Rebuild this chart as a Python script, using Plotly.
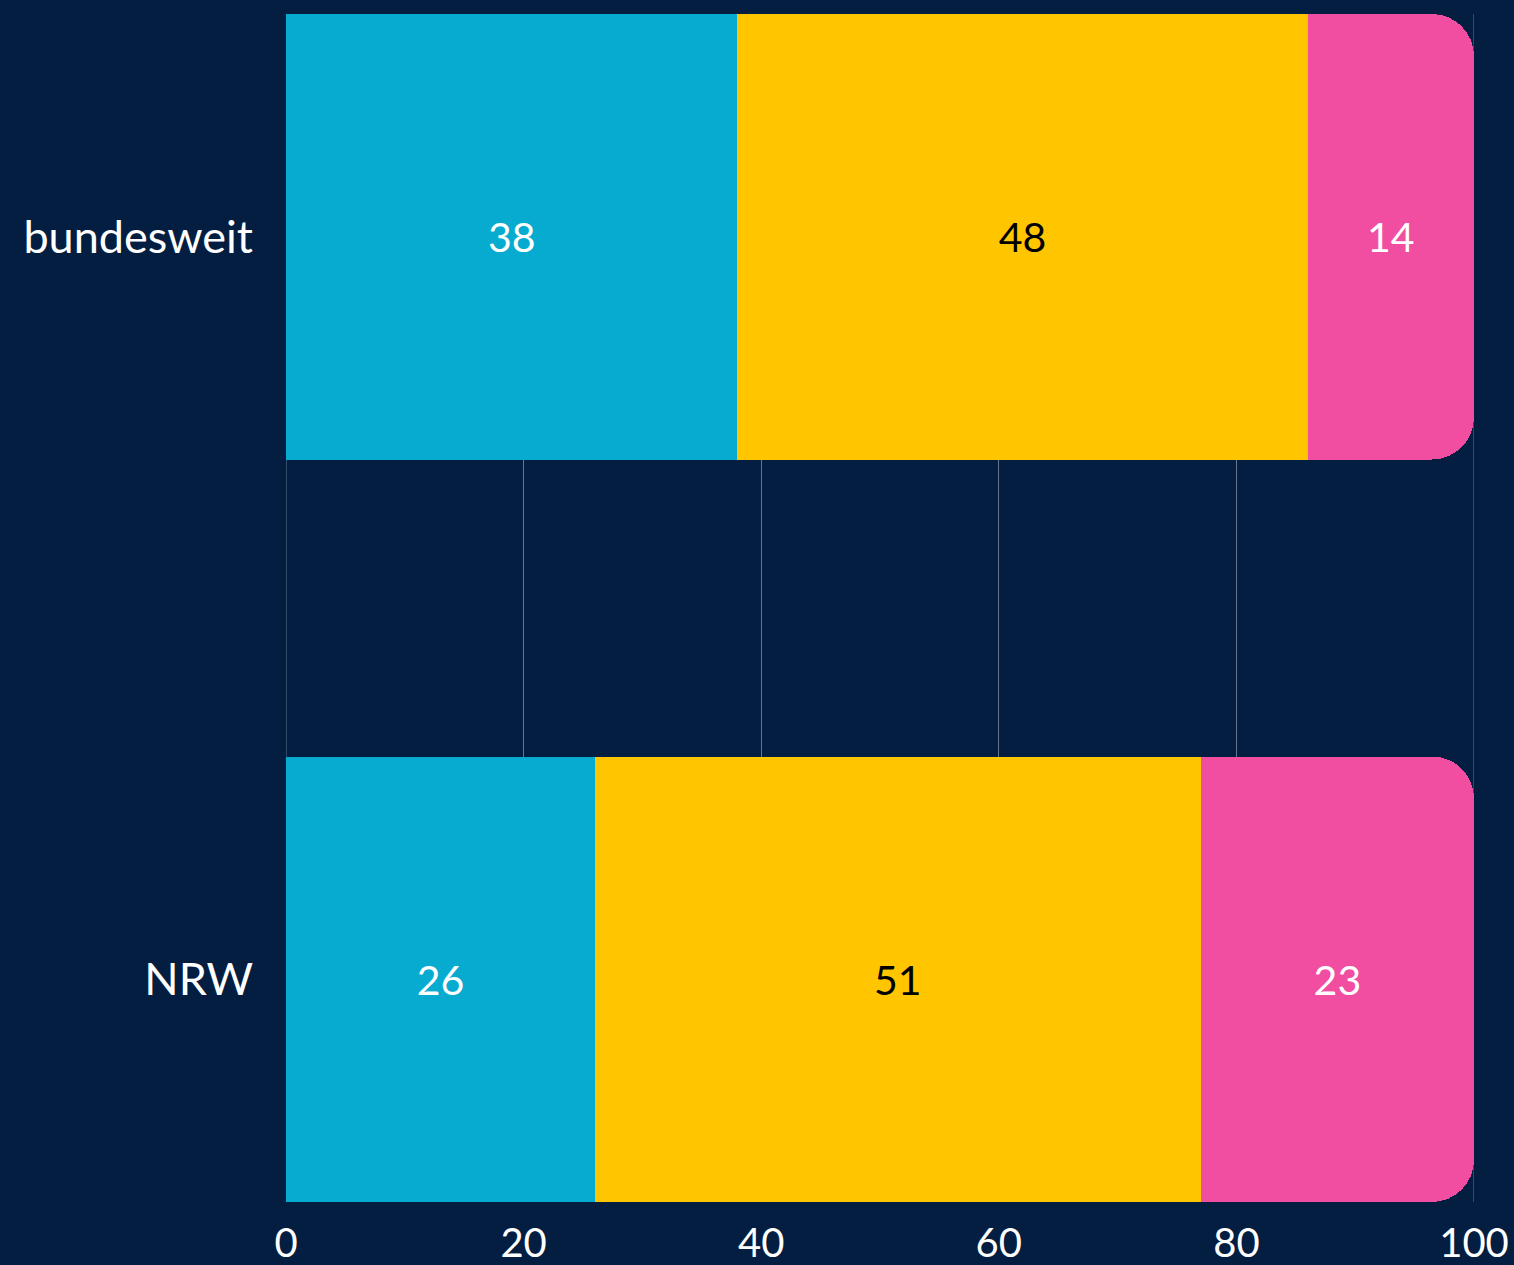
import plotly.graph_objects as go

# Daten
kategorien = ["NRW", "bundesweit"]
serie_1 = [26, 38]
serie_2 = [51, 48]
serie_3 = [23, 14]
x_ticks = [0, 20, 40, 60, 80, 100]

BG = "#031e41"
FARBEN = ["#07abd0", "#ffc600", "#f14ea2"]
TEXTFARBEN = ["white", "black", "white"]
GRID = "#66758b"
FONT = "Source Sans Pro, Lato, sans-serif"

fig = go.Figure()
for werte, farbe, tf in zip([serie_1, serie_2, serie_3], FARBEN, TEXTFARBEN):
    fig.add_trace(go.Bar(
        y=kategorien,
        x=werte,
        orientation="h",
        marker=dict(color=farbe, line=dict(width=0)),
        text=werte,
        textposition="inside",
        insidetextanchor="middle",
        textfont=dict(color=tf, size=41, family=FONT),
        hoverinfo="skip",
    ))

# Gitterlinien am Rand (0 und 100) werden von Plotly weggelassen -> als Shapes
for xv in (x_ticks[0], x_ticks[-1]):
    fig.add_shape(type="line", xref="x", yref="paper", x0=xv, x1=xv, y0=0, y1=1,
                  line=dict(color=GRID, width=1), layer="below")

fig.update_layout(
    barmode="stack",
    barcornerradius=42,
    bargap=0.4,
    width=1514,
    height=1265,
    margin=dict(l=286, r=40, t=14, b=63, autoexpand=False),
    paper_bgcolor=BG,
    plot_bgcolor=BG,
    showlegend=False,
    font=dict(family=FONT, color="white", size=40),
)
fig.update_xaxes(
    range=[0, 100],
    tickvals=x_ticks,
    showgrid=True,
    gridcolor=GRID,
    gridwidth=1,
    zeroline=False,
    tickfont=dict(size=40, color="white"),
    ticks="",
    ticklabelstandoff=14,
    automargin=False,
)
fig.update_yaxes(
    range=[-0.3, 1.3],
    showgrid=False,
    zeroline=False,
    tickfont=dict(size=45, color="white"),
    ticks="",
    ticklabelstandoff=32,
    automargin=False,
)

fig.write_html(
    "out.html",
    config={"displayModeBar": False},
    post_script="document.body.style.margin='0';document.body.style.background='%s';" % BG,
)
